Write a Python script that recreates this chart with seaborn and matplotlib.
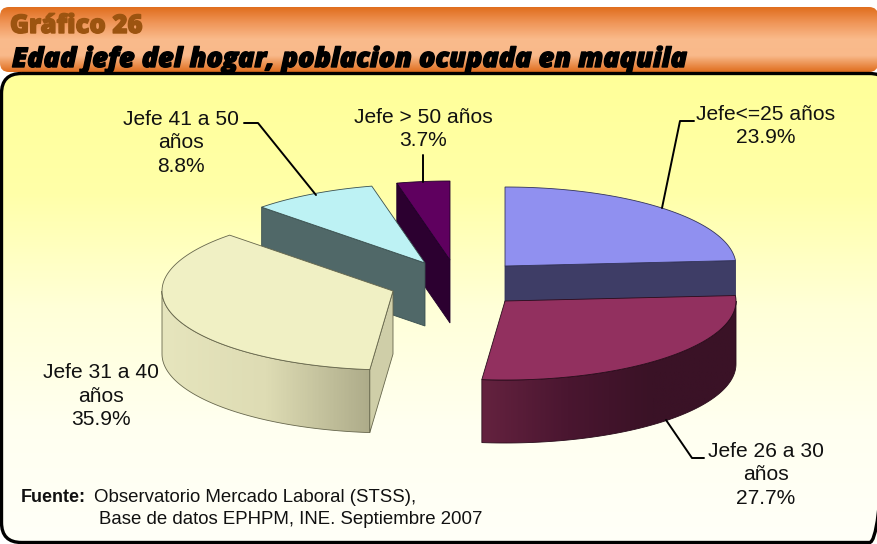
import numpy as np
import seaborn as sns
import matplotlib.pyplot as plt
import matplotlib.patheffects as pe
from matplotlib.colors import LinearSegmentedColormap
from matplotlib.patches import FancyBboxPatch, Polygon

labels = ['Jefe<=25 años', 'Jefe 26 a 30\naños', 'Jefe 31 a 40\naños', 'Jefe 41 a 50\naños', 'Jefe > 50 años']
shares = [23.9, 27.7, 35.9, 8.8, 3.7]

# pixel layout of the exploded slices
centres = [(505, 266), (505, 301), (393, 291), (425, 263), (450, 260)]
rx, ry, depth = 231, 79, 63
top_colors = ['#9090f0', '#92305f', '#f0f0c4', '#bdf2f4', '#5f005f']
face_colors = ['#3e3d66', '#3e3d66', '#cfcea8', '#506868', '#2c0030']
rim_colors = [('#3e3d66', '#3e3d66'), ('#64223f', '#4a1630', '#3a1226', '#3a1226'),
              ('#e6e5bd', '#dedcb4', '#aeac8a'), ('#506868', '#506868'), ('#2c0030', '#2c0030')]
edge_colors = ['#33335a', '#2a0c1c', '#66664c', '#3a5050', '#20002a']
draw_order = [4, 0, 3, 2, 1]
label_pos = [(766, 126), (766, 475), (101, 396), (181, 143), (423, 129)]
leaders = [[(662, 208), (680, 121), (694, 121)],
           [(666, 420), (692, 458), (704, 458)],
           [],
           [(316, 195), (258, 123), (244, 123)],
           [(423, 182), (423, 155)]]

sns.set_theme(style='white')
fig = plt.figure(figsize=(8.78, 5.44), dpi=100)
ax = fig.add_axes([0, 0, 1, 1])
ax.axis('off')

# header band
band = FancyBboxPatch((0, 7), 878, 65, boxstyle='round,pad=0,rounding_size=9', fc='none', ec='none')
ax.add_patch(band)
cmap = LinearSegmentedColormap.from_list('band', ['#e06e1e', '#f0975a', '#fabb8c', '#f9b98a', '#e06e1e'])
im = ax.imshow(np.linspace(0, 1, 200)[:, None], cmap=cmap, extent=(0, 878, 72, 7), aspect='auto', zorder=1)
im.set_clip_path(band)

# panel, its right side runs off the picture
panel = FancyBboxPatch((1.5, 73.5), 888, 469, boxstyle='round,pad=0,rounding_size=20', fc='none', ec='black', lw=2.4, zorder=3)
ax.add_patch(panel)
cmap = LinearSegmentedColormap.from_list('panel', ['#ffff99', '#ffffa8', '#ffffd8', '#fffff0', '#fffff8'])
im = ax.imshow(np.linspace(0, 1, 200)[:, None], cmap=cmap, extent=(0, 890, 543, 73), aspect='auto', zorder=2)
im.set_clip_path(panel)


def rim_point(c, a):
    return c[0] + rx * np.sin(a), c[1] - ry * np.cos(a)


edges = np.radians(np.cumsum([0] + shares) / sum(shares) * 360)

for i in draw_order:
    c = centres[i]
    a0, a1 = edges[i], edges[i + 1]
    z = 10 + draw_order.index(i) * 3

    # side of the rim that faces the viewer, lightest at the left of the slice
    lo, hi = max(a0, np.pi / 2), min(a1, 3 * np.pi / 2)
    if hi > lo:
        steps = np.linspace(lo, hi, 80)
        top = [rim_point(c, a) for a in steps]
        bottom = [(p[0], p[1] + depth) for p in top]
        rim = Polygon(top + bottom[::-1], fc='none', ec=edge_colors[i], lw=0.6, zorder=z + 0.5)
        ax.add_patch(rim)
        xs = [p[0] for p in top]
        ys = [p[1] for p in top] + [p[1] for p in bottom]
        pal = sns.blend_palette(list(rim_colors[i]), 200)
        im = ax.imshow(np.arange(200)[None, :], cmap=LinearSegmentedColormap.from_list('rim', pal),
                       extent=(min(xs), max(xs), max(ys), min(ys)), aspect='auto', zorder=z)
        im.set_clip_path(rim)

    # flat cut faces turned to the viewer
    for a, normal in ((a0, a0 - np.pi / 2), (a1, a1 + np.pi / 2)):
        if np.cos(normal) < -1e-6:
            p = rim_point(c, a)
            ax.add_patch(Polygon([c, p, (p[0], p[1] + depth), (c[0], c[1] + depth)], fc=face_colors[i],
                                 ec=edge_colors[i], lw=0.6, zorder=z + 1))

    # top
    arc = [rim_point(c, a) for a in np.linspace(a0, a1, 80)]
    ax.add_patch(Polygon([c] + arc, fc=top_colors[i], ec=edge_colors[i], lw=0.6, zorder=z + 2))

ax.set_xlim(0, 878)
ax.set_ylim(544, 0)

ink = '#111111'
for lab, share, pos, line in zip(labels, shares, label_pos, leaders):
    ax.text(pos[0], pos[1], f'{lab}\n{share:.1f}%', ha='center', va='center', multialignment='center',
            family='Liberation Sans', fontsize=15.1, linespacing=1.27, color=ink, zorder=40)
    if line:
        ax.plot([p[0] for p in line], [p[1] for p in line], color='black', lw=1.4, zorder=39)

ax.text(10, 26, 'Gráfico 26', family='Open Sans', weight='extra bold', fontsize=18.5, color='#9c5410', va='center', zorder=5,
        path_effects=[pe.withStroke(linewidth=1.0, foreground='#9c5410')])
ax.text(12, 60, 'Edad jefe del hogar, poblacion ocupada en maquila', family='Open Sans', weight='extra bold', style='italic',
        fontsize=19.5, color='black', va='center', zorder=5,
        path_effects=[pe.withStroke(linewidth=1.0, foreground='black')])

ax.text(21, 497, 'Fuente:', family='Liberation Sans', weight='bold', fontsize=13.0, color=ink, va='center', zorder=40)
ax.text(94, 497, 'Observatorio Mercado Laboral (STSS),', family='Liberation Sans', fontsize=13.4, color=ink, va='center', zorder=40)
ax.text(99, 519, 'Base de datos EPHPM, INE. Septiembre 2007', family='Liberation Sans', fontsize=13.4, color=ink, va='center', zorder=40)

fig.savefig('out.png', dpi=100)
